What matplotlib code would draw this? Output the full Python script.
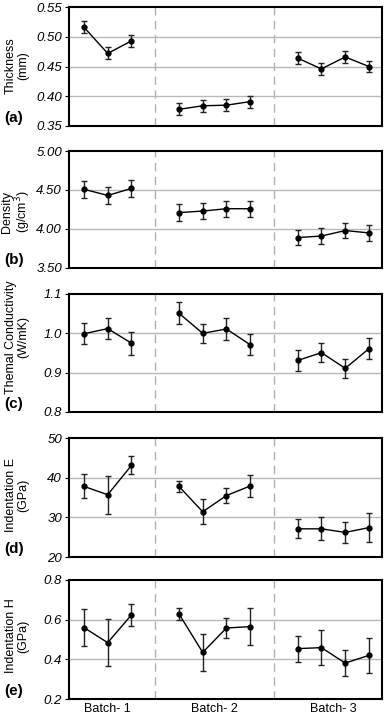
import numpy as np
import matplotlib
matplotlib.use("Agg")
import matplotlib.pyplot as plt

plt.rcParams['font.family'] = ['Liberation Sans', 'DejaVu Sans']

# sample positions on the x axis (batch 1: 3 samples, batch 2 and 3: 4 samples)
batch_x = [[1, 2, 3], [5, 6, 7, 8], [10, 11, 12, 13]]
batch_labels = ["Batch- 1", "Batch- 2", "Batch- 3"]
batch_ticks = [2, 6.5, 11.5]
separators = [4, 9]

thickness = [[0.516, 0.472, 0.493], [0.378, 0.384, 0.385, 0.391], [0.464, 0.446, 0.466, 0.450]]
thickness_err = [[0.010, 0.010, 0.010], [0.010, 0.010, 0.010, 0.010], [0.010, 0.010, 0.010, 0.010]]

density = [[4.51, 4.43, 4.52], [4.21, 4.23, 4.26, 4.26], [3.89, 3.91, 3.98, 3.95]]
density_err = [[0.11, 0.11, 0.11], [0.105, 0.105, 0.105, 0.105], [0.10, 0.10, 0.10, 0.10]]

conductivity = [[0.999, 1.012, 0.975], [1.051, 1.000, 1.011, 0.971], [0.931, 0.951, 0.911, 0.961]]
conductivity_err = [[0.027, 0.026, 0.029], [0.028, 0.025, 0.027, 0.027], [0.027, 0.025, 0.025, 0.027]]

ind_e = [[37.8, 35.7, 43.1], [37.8, 31.4, 35.5, 37.9], [27.1, 27.1, 26.2, 27.4]]
ind_e_err = [[3.0, 4.8, 2.3], [1.4, 3.1, 1.9, 2.8], [2.4, 2.9, 2.6, 3.6]]

ind_h = [[0.560, 0.484, 0.624], [0.629, 0.435, 0.558, 0.565], [0.454, 0.459, 0.381, 0.420]]
ind_h_err = [[0.094, 0.118, 0.057], [0.032, 0.094, 0.050, 0.094], [0.066, 0.088, 0.066, 0.089]]

# (values, errors, ylabel, tag, ylim, yticks, tick format, (top px, bottom px), label centre px)
panels = [
    (thickness, thickness_err, "Thickness\n(mm)", "(a)", (0.35, 0.55), [0.35, 0.40, 0.45, 0.50, 0.55], "{:.2f}", (7, 126), 66),
    (density, density_err, "Density\n(g/cm$^3$)", "(b)", (3.5, 5.0), [3.5, 4.0, 4.5, 5.0], "{:.2f}", (151, 268), 212),
    (conductivity, conductivity_err, "Themal Conductivity\n(W/mK)", "(c)", (0.8, 1.1), [0.8, 0.9, 1.0, 1.1], "{:.1f}", (294, 412), 337),
    (ind_e, ind_e_err, "Indentation E\n(GPa)", "(d)", (20, 50), [20, 30, 40, 50], "{:.0f}", (438, 557), 495),
    (ind_h, ind_h_err, "Indentation H\n(GPa)", "(e)", (0.2, 0.8), [0.2, 0.4, 0.6, 0.8], "{:.1f}", (580, 699), 636),
]

W, H = 388, 718
fig = plt.figure(figsize=(W / 100, H / 100), dpi=100)
left, right = 69, 382

for i, (vals, errs, ylab, tag, ylim, yticks, fmt, (top, bot), ymid_px) in enumerate(panels):
    ax = fig.add_axes([left / W, 1 - bot / H, (right - left) / W, (bot - top) / H])
    for xs, ys, es in zip(batch_x, vals, errs):
        ax.errorbar(xs, ys, yerr=es, color='black', ecolor='#222222', elinewidth=1,
                    capsize=2.5, capthick=1, marker='o', markersize=3.5, lw=1, zorder=3)
    for s in separators:
        ax.axvline(s, color='#b0b0b0', lw=1, ls=(0, (6, 4)), zorder=1)
    for t in yticks[1:-1]:
        ax.axhline(t, color='#b8b8b8', lw=1, zorder=1)
    ax.set_xlim(0.37, 13.55)
    ax.set_ylim(*ylim)
    ax.set_yticks(yticks)
    ax.set_yticklabels([fmt.format(t) for t in yticks], fontsize=9.5, style='italic')
    ax.tick_params(axis='y', length=3, width=0.8, pad=2)
    if i == len(panels) - 1:
        ax.set_xticks(batch_ticks)
        ax.set_xticklabels(batch_labels, fontsize=9)
        ax.tick_params(axis='x', length=0, pad=3)
    else:
        ax.set_xticks([])
    for sp in ax.spines.values():
        sp.set_linewidth(1.5)
    fig.text(17 / W, 1 - ymid_px / H, ylab, rotation=90, ha='center', va='center',
             multialignment='center', fontsize=9, linespacing=1.0)
    fig.text(4 / W, 1 - (bot - 8) / H, tag, ha='left', va='center',
             fontsize=11, fontweight='bold')

fig.savefig("out.png", dpi=100)
